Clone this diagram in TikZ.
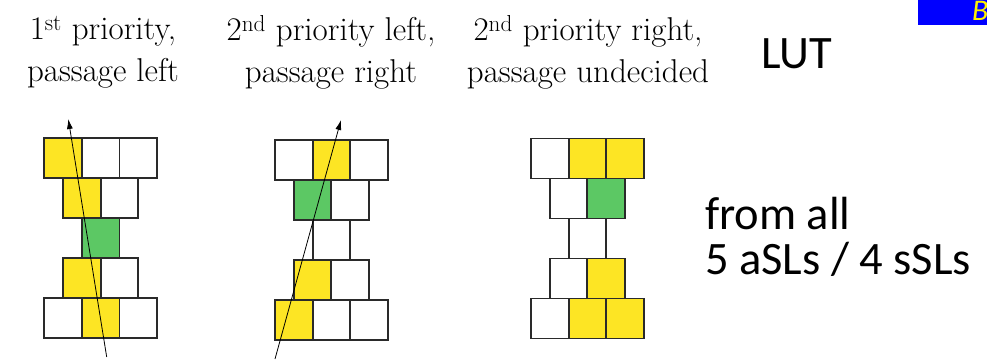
\documentclass[tikz,border=0pt]{standalone}
\usepackage{fontspec}
\newfontfamily\carlito{Carlito}
\usetikzlibrary{arrows.meta}
\definecolor{ylw}{HTML}{FDE524}
\definecolor{grn}{HTML}{5CC864}
\definecolor{bord}{HTML}{2A2A2A}
\begin{document}
\begin{tikzpicture}[x=1pt,y=-1pt,
  cell/.style={fill=#1,minimum width=37.6pt,minimum height=40pt,inner sep=0pt,outer sep=0pt,anchor=north west},
  cellborder/.style={draw=bord,line width=1.9pt},
  lbl/.style={align=center,font=\fontsize{33}{42}\selectfont,inner sep=0pt},
  sans/.style={font=\carlito\fontsize{46.5}{45}\selectfont,inner sep=0pt},
  pass/.style={line width=0.8pt,-{Latex[length=10pt,width=6pt]}}]
\useasboundingbox (0,0) rectangle (987,361);
% blue box top right
\fill[blue] (918,0) rectangle (987,25);
\begin{scope}
  \clip (918,0) rectangle (987,25);
  \node[font=\carlito\itshape\fontsize{30}{30}\selectfont,text=yellow,anchor=base west,inner sep=0pt] (bq) at (972,21) {B};
\end{scope}
% labels
\node[lbl] (l1) at (103,52) {1\textsuperscript{st} priority,\\passage left};
\node[lbl] (l2) at (331,52) {2\textsuperscript{nd} priority left,\\passage right};
\node[lbl] (l3) at (588,52) {2\textsuperscript{nd} priority right,\\passage undecided};
\node[sans] (lut) at (796.7,53.3) {LUT};
\node[sans,align=left,anchor=north west] (from) at (705,197) {from all\\5 aSLs / 4 sSLs};
% cells
\foreach \n/\x/\y/\c in {
  a11/44.3/138.3/ylw, a12/81.9/138.3/white, a13/119.5/138.3/white,
  a21/63.1/178.3/ylw, a22/100.7/178.3/white,
  a31/81.9/218.3/grn,
  a41/63.1/258.3/ylw, a42/100.7/258.3/white,
  a51/44.3/298.3/white, a52/81.9/298.3/ylw, a53/119.5/298.3/white,
  b11/275/140/white, b12/312.6/140/ylw, b13/350.2/140/white,
  b21/293.8/180/grn, b22/331.4/180/white,
  b31/312.6/220/white,
  b41/293.8/260/ylw, b42/331.4/260/white,
  b51/275/300/ylw, b52/312.6/300/white, b53/350.2/300/white,
  c11/531/138.5/white, c12/568.6/138.5/ylw, c13/606.2/138.5/ylw,
  c21/549.8/178.5/white, c22/587.4/178.5/grn,
  c31/568.6/218.5/white,
  c41/549.8/258.5/white, c42/587.4/258.5/ylw,
  c51/531/298.5/white, c52/568.6/298.5/ylw, c53/606.2/298.5/ylw}
  \node[cell=\c] (\n) at (\x,\y) {};
\foreach \n in {a11,a12,a13,a21,a22,a31,a41,a42,a51,a52,a53,
  b11,b12,b13,b21,b22,b31,b41,b42,b51,b52,b53,
  c11,c12,c13,c21,c22,c31,c41,c42,c51,c52,c53}
  \draw[cellborder] (\n.north west) rectangle (\n.south east);
% passage arrows
\coordinate (s1) at (106.7,357);
\coordinate (e1) at (68.3,119);
\draw[pass] (s1) -- (e1);
\coordinate (s2) at (275,359);
\coordinate (e2) at (341,120);
\draw[pass] (s2) -- (e2);
\end{tikzpicture}
\end{document}
